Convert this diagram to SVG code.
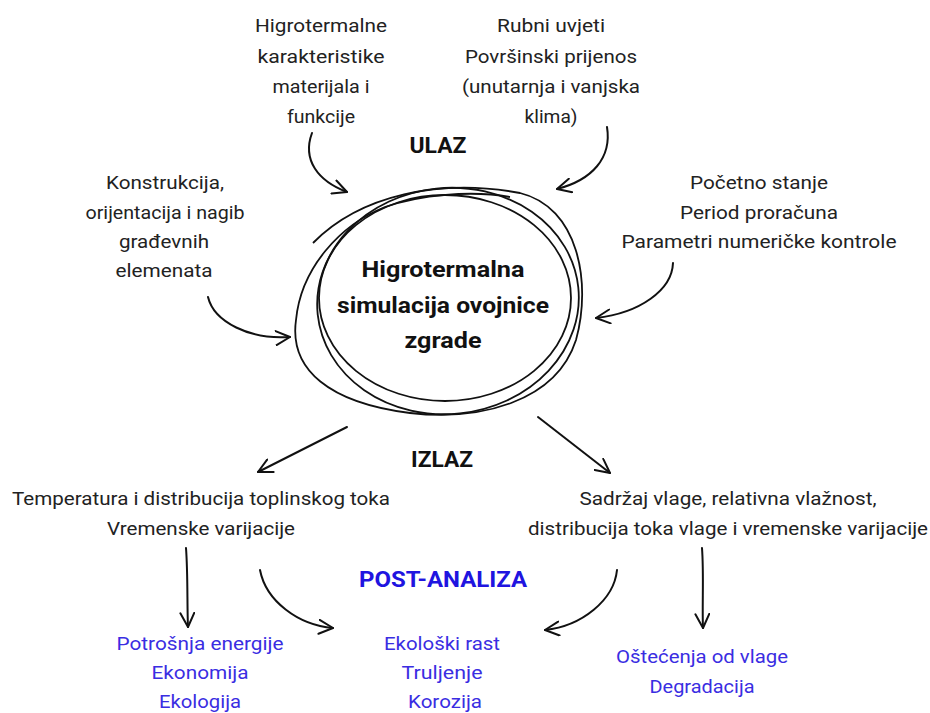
<svg xmlns="http://www.w3.org/2000/svg" width="930" height="713" viewBox="0 0 930 713">
<defs>
<marker id="ah" markerUnits="userSpaceOnUse" markerWidth="16" markerHeight="16" viewBox="0 0 16 16" refX="15" refY="8" orient="auto">
<path d="M1,1 L15,8 L1,15" fill="none" stroke="#111" stroke-width="2" stroke-linecap="round" stroke-linejoin="round"/>
</marker>
<style>
text{font-family:Roboto,"Noto Sans","Liberation Sans",sans-serif;text-anchor:middle}
.t{font-size:19px;fill:#222}
.b{font-size:22px;font-weight:bold;fill:#111}
.u{font-size:19px;fill:#3a2de2}
.ub{font-size:22px;font-weight:bold;fill:#2014e0}
.c{fill:none;stroke:#111;stroke-width:2;stroke-linecap:round}
.ring{fill:none;stroke:#111;stroke-width:1.8}
</style>
</defs>
<rect width="930" height="713" fill="#fff"/>

<g id="center">
<ellipse class="ring" cx="445" cy="298" rx="126" ry="103"/>
<ellipse class="ring" cx="448" cy="301" rx="131" ry="113" transform="rotate(-6 448 301)"/>
<path class="ring" d="M313,243 C360,195 440,178 520,193 C578,207 592,282 576,340 C556,402 480,421 410,413 C330,403 289,370 296,320 C301,268 340,225 385,207 C420,195 470,190 510,197"/>
<text class="b" x="443" y="277" textLength="163" lengthAdjust="spacingAndGlyphs">Higrotermalna</text>
<text class="b" x="443" y="313" textLength="212" lengthAdjust="spacingAndGlyphs">simulacija ovojnice</text>
<text class="b" x="443" y="348" textLength="77" lengthAdjust="spacingAndGlyphs">zgrade</text>
</g>

<g id="in-materials">
<text class="t" x="321" y="32" textLength="132" lengthAdjust="spacingAndGlyphs">Higrotermalne</text>
<text class="t" x="321" y="63" textLength="127" lengthAdjust="spacingAndGlyphs">karakteristike</text>
<text class="t" x="321" y="93" textLength="97" lengthAdjust="spacingAndGlyphs">materijala i</text>
<text class="t" x="321" y="123" textLength="68" lengthAdjust="spacingAndGlyphs">funkcije</text>
</g>

<g id="in-boundary">
<text class="t" x="551" y="32" textLength="108" lengthAdjust="spacingAndGlyphs">Rubni uvjeti</text>
<text class="t" x="551" y="63" textLength="172" lengthAdjust="spacingAndGlyphs">Površinski prijenos</text>
<text class="t" x="551" y="93" textLength="178" lengthAdjust="spacingAndGlyphs">(unutarnja i vanjska</text>
<text class="t" x="551" y="123" textLength="53" lengthAdjust="spacingAndGlyphs">klima)</text>
</g>

<g id="ulaz">
<text class="b" x="438" y="153" textLength="57" lengthAdjust="spacingAndGlyphs">ULAZ</text>
</g>

<g id="in-construction">
<text class="t" x="165" y="189" textLength="118" lengthAdjust="spacingAndGlyphs">Konstrukcija,</text>
<text class="t" x="165" y="219" textLength="159" lengthAdjust="spacingAndGlyphs">orijentacija i nagib</text>
<text class="t" x="164" y="248" textLength="90" lengthAdjust="spacingAndGlyphs">građevnih</text>
<text class="t" x="164" y="277" textLength="97" lengthAdjust="spacingAndGlyphs">elemenata</text>
</g>

<g id="in-initial">
<text class="t" x="759" y="189" textLength="138" lengthAdjust="spacingAndGlyphs">Početno stanje</text>
<text class="t" x="759" y="219" textLength="158" lengthAdjust="spacingAndGlyphs">Period proračuna</text>
<text class="t" x="759" y="248" textLength="275" lengthAdjust="spacingAndGlyphs">Parametri numeričke kontrole</text>
</g>

<g id="izlaz">
<text class="b" x="442" y="467" textLength="62" lengthAdjust="spacingAndGlyphs">IZLAZ</text>
</g>

<g id="out-thermal">
<text class="t" x="201" y="505" textLength="378" lengthAdjust="spacingAndGlyphs">Temperatura i distribucija toplinskog toka</text>
<text class="t" x="201" y="535" textLength="188" lengthAdjust="spacingAndGlyphs">Vremenske varijacije</text>
</g>

<g id="out-moisture">
<text class="t" x="728" y="505" textLength="297" lengthAdjust="spacingAndGlyphs">Sadržaj vlage, relativna vlažnost,</text>
<text class="t" x="728" y="535" textLength="400" lengthAdjust="spacingAndGlyphs">distribucija toka vlage i vremenske varijacije</text>
</g>

<g id="post-analiza">
<text class="ub" x="443" y="587" textLength="168" lengthAdjust="spacingAndGlyphs">POST-ANALIZA</text>
</g>

<g id="post-energy">
<text class="u" x="200" y="650" textLength="167" lengthAdjust="spacingAndGlyphs">Potrošnja energije</text>
<text class="u" x="200" y="679" textLength="97" lengthAdjust="spacingAndGlyphs">Ekonomija</text>
<text class="u" x="200" y="708" textLength="82" lengthAdjust="spacingAndGlyphs">Ekologija</text>
</g>

<g id="post-bio">
<text class="u" x="442" y="650" textLength="116" lengthAdjust="spacingAndGlyphs">Ekološki rast</text>
<text class="u" x="442" y="679" textLength="81" lengthAdjust="spacingAndGlyphs">Truljenje</text>
<text class="u" x="445" y="708" textLength="74" lengthAdjust="spacingAndGlyphs">Korozija</text>
</g>

<g id="post-damage">
<text class="u" x="702" y="663" textLength="172" lengthAdjust="spacingAndGlyphs">Oštećenja od vlage</text>
<text class="u" x="702" y="693" textLength="105" lengthAdjust="spacingAndGlyphs">Degradacija</text>
</g>

<g id="connectors">
<path class="c" d="M312,133 C302,160 318,181 347,192" marker-end="url(#ah)"/>
<path class="c" d="M607,127 C612,158 592,180 557,189" marker-end="url(#ah)"/>
<path class="c" d="M208,297 C214,322 250,340 290,337" marker-end="url(#ah)"/>
<path class="c" d="M673,263 C672,290 640,313 596,318" marker-end="url(#ah)"/>
<path class="c" d="M347,427 L258,472" marker-end="url(#ah)"/>
<path class="c" d="M538,417 L610,473" marker-end="url(#ah)"/>
<path class="c" d="M186,548 C188,575 187,605 188,627" marker-end="url(#ah)"/>
<path class="c" d="M260,570 C266,601 298,625 333,628" marker-end="url(#ah)"/>
<path class="c" d="M617,570 C614,600 582,626 545,630" marker-end="url(#ah)"/>
<path class="c" d="M702,548 C704,575 702,605 703,628" marker-end="url(#ah)"/>
</g>
</svg>
